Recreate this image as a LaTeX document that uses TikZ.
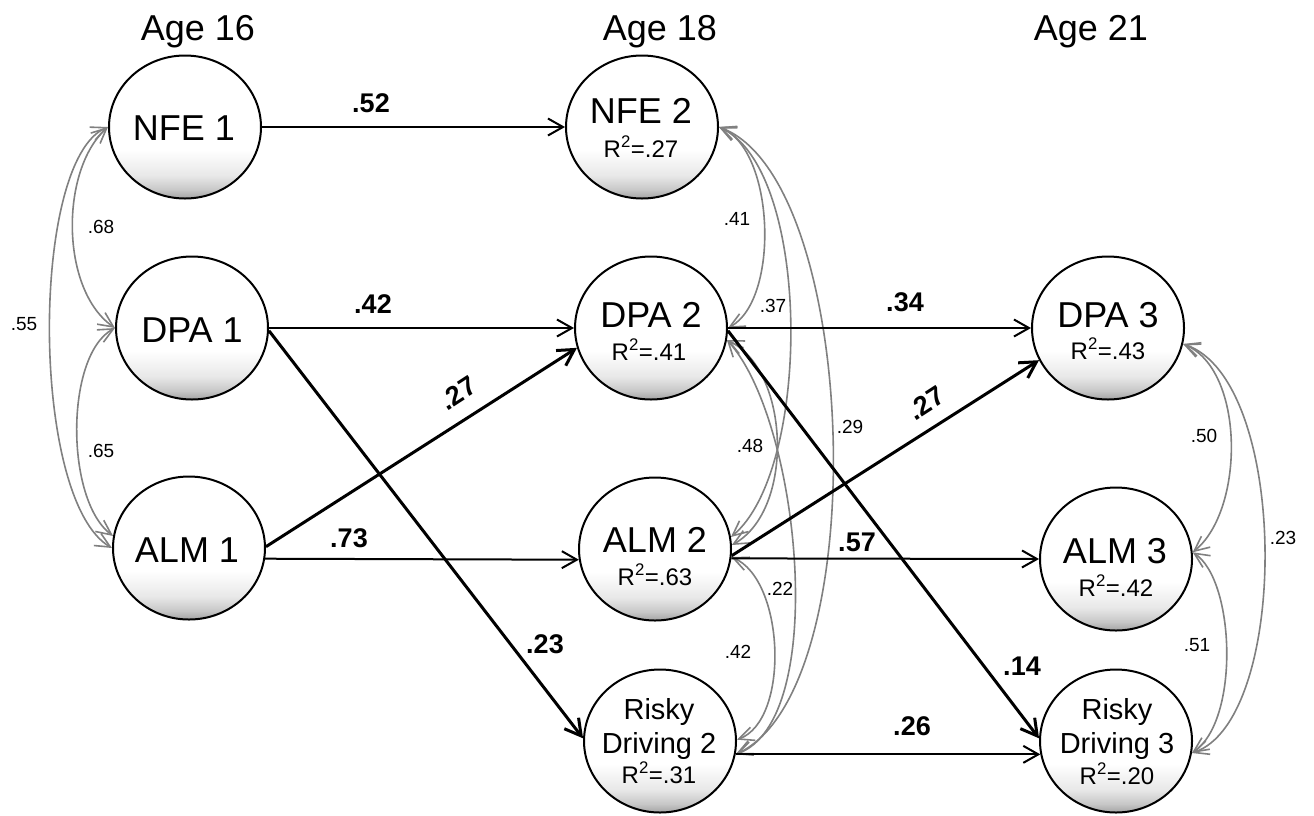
\documentclass[tikz,border=0pt]{standalone}
\usepackage{fontspec}
\setmainfont{Liberation Sans}
\usetikzlibrary{arrows.meta,shapes.geometric,calc}

% soft grey shadow along the lower rim of each latent variable
\pgfdeclareverticalshading{ballshade}{100bp}{color(0bp)=(black!36); color(25bp)=(black!36); color(28bp)=(black!22); color(33bp)=(black!9); color(42bp)=(white); color(100bp)=(white)}

\tikzset{
  latent/.style={ellipse, draw=black, line width=2pt, minimum width=152pt,
    minimum height=143pt, inner sep=0pt, shading=ballshade},
  namelbl/.style={font=\fontsize{36}{40}\selectfont, anchor=base, inner sep=0pt},
  rsq/.style={font=\fontsize{24}{28}\selectfont, anchor=base, inner sep=0pt},
  riskylbl/.style={font=\fontsize{29}{33}\selectfont, anchor=base, inner sep=0pt},
  agelbl/.style={font=\fontsize{36}{40}\selectfont, anchor=base, inner sep=0pt},
  coef/.style={font=\fontsize{27}{30}\selectfont\bfseries, anchor=base, inner sep=0pt},
  coefrot/.style={font=\fontsize{27}{30}\selectfont\bfseries, inner sep=0pt, rotate=33},
  corr/.style={font=\fontsize{19}{22}\selectfont, anchor=base, inner sep=0pt},
  reg/.style={draw=black, line width=2pt, -{Straight Barb[length=15pt,width=17pt]}},
  regthick/.style={draw=black, line width=3pt, -{Straight Barb[length=16pt,width=18pt]}},
  cov/.style={draw=black!50, line width=1.6pt,
    {Straight Barb[length=15pt,width=14pt]}-{Straight Barb[length=15pt,width=14pt]}},
}

\begin{document}
\begin{tikzpicture}[x=1pt, y=-1pt]
\fill[white] (0,0) rectangle (1314,815);
\useasboundingbox (0,0) rectangle (1314,815);

% wave headings
\node[agelbl] (age16) at (198,40) {Age 16};
\node[agelbl] (age18) at (660,40) {Age 18};
\node[agelbl] (age21) at (1091,40) {Age 21};

% latent variables
\node[latent] (nfe1) at (185,127) {};
\node[latent] (dpa1) at (192,328) {};
\node[latent] (alm1) at (189,548) {};
\node[latent] (nfe2) at (642,127) {};
\node[latent] (dpa2) at (651,328) {};
\node[latent] (alm2) at (655,549) {};
\node[latent] (risky2) at (660,741) {};
\node[latent] (dpa3) at (1108,328) {};
\node[latent] (alm3) at (1116,559) {};
\node[latent] (risky3) at (1116,741) {};

% variable names and explained variance
\node[namelbl] (nfe1-n) at (184,140) {NFE 1};
\node[namelbl] (dpa1-n) at (192,342) {DPA 1};
\node[namelbl] (alm1-n) at (187,562) {ALM 1};
\node[namelbl] (nfe2-n) at (641,123) {NFE 2};
\node[rsq] (nfe2-r) at (641,157) {R\textsuperscript{2}=.27};
\node[namelbl] (dpa2-n) at (651,327) {DPA 2};
\node[rsq] (dpa2-r) at (649,360) {R\textsuperscript{2}=.41};
\node[namelbl] (alm2-n) at (655,552) {ALM 2};
\node[rsq] (alm2-r) at (655,585) {R\textsuperscript{2}=.63};
\node[riskylbl] (risky2-a) at (659,719) {Risky};
\node[riskylbl] (risky2-b) at (659,753) {Driving 2};
\node[rsq] (risky2-r) at (659,783) {R\textsuperscript{2}=.31};
\node[namelbl] (dpa3-n) at (1108,327) {DPA 3};
\node[rsq] (dpa3-r) at (1108,359) {R\textsuperscript{2}=.43};
\node[namelbl] (alm3-n) at (1115,563) {ALM 3};
\node[rsq] (alm3-r) at (1116,596) {R\textsuperscript{2}=.42};
\node[riskylbl] (risky3-a) at (1117,719) {Risky};
\node[riskylbl] (risky3-b) at (1117,753) {Driving 3};
\node[rsq] (risky3-r) at (1117,784) {R\textsuperscript{2}=.20};

% covariances, age 16
\draw[cov] (nfe1.west) .. controls (60,170) and (60,290) .. (dpa1.west);
\draw[cov] (dpa1.west) .. controls (65,355) and (65,500) .. (alm1.171);
\draw[cov] (nfe1.west) .. controls (30,160) and (30,500) .. (alm1.west);

% covariances, age 18
\draw[cov] (nfe2.east) .. controls (775,150) and (780,300) .. (dpa2.east);
\draw[cov] (nfe2.east) .. controls (812,170) and (812,470) .. (alm2.9);
\draw[cov] (nfe2.east) .. controls (860,180) and (875,690) .. (risky2.-10);
\draw[cov] (dpa2.-9) .. controls (790,370) and (795,510) .. (alm2.3);
\draw[cov] (dpa2.-9) .. controls (800,420) and (830,720) .. (risky2.-10);
\draw[cov] (alm2.-6) .. controls (785,580) and (790,720) .. (risky2.1);

% covariances, age 21
\draw[cov] (dpa3.-12) .. controls (1245,370) and (1245,510) .. (alm3.5);
\draw[cov] (dpa3.-12) .. controls (1290,380) and (1290,720) .. (risky3.-9);
\draw[cov] (alm3.5) .. controls (1235,580) and (1240,720) .. (risky3.-9);

% regression paths
\draw[reg] (nfe1.east) -- (nfe2.west);
\draw[reg] (dpa1.east) -- (dpa2.west);
\draw[reg] (alm1.-8) -- (alm2.188);
\draw[regthick] (alm1.1) -- (dpa2.195);
\draw[regthick] (dpa1.-2) -- (risky2.178);
\draw[reg] (dpa2.east) -- (dpa3.west);
\draw[regthick] (alm2.-5) -- (dpa3.205);
\draw[reg] (alm2.-7) -- (alm3.west);
\draw[regthick] (dpa2.-2) -- (risky3.178);
\draw[reg] (risky2.-10) -- (risky3.190);

% path coefficients
\node[coef] (c52) at (371,112) {.52};
\node[coef] (c42) at (373,313) {.42};
\node[coefrot] (c27a) at (458,393) {.27};
\node[coef] (c73) at (349,547) {.73};
\node[coef] (c23) at (545,653) {.23};
\node[coef] (c34) at (905,311) {.34};
\node[coefrot] (c27b) at (926,403) {.27};
\node[coef] (c57) at (857,551) {.57};
\node[coef] (c14) at (1022,675) {.14};
\node[coef] (c26) at (912,735) {.26};

% correlations
\node[corr] (r68) at (101,233) {.68};
\node[corr] (r65) at (101,457) {.65};
\node[corr] (r55) at (24,330) {.55};
\node[corr] (r41) at (737,225) {.41};
\node[corr] (r37) at (773,312) {.37};
\node[corr] (r29) at (850,433) {.29};
\node[corr] (r48) at (750,452) {.48};
\node[corr] (r22) at (780,595) {.22};
\node[corr] (r42) at (738,658) {.42};
\node[corr] (r50) at (1204,442) {.50};
\node[corr] (r23) at (1283,544) {.23};
\node[corr] (r51) at (1197,651) {.51};
\end{tikzpicture}
\end{document}
